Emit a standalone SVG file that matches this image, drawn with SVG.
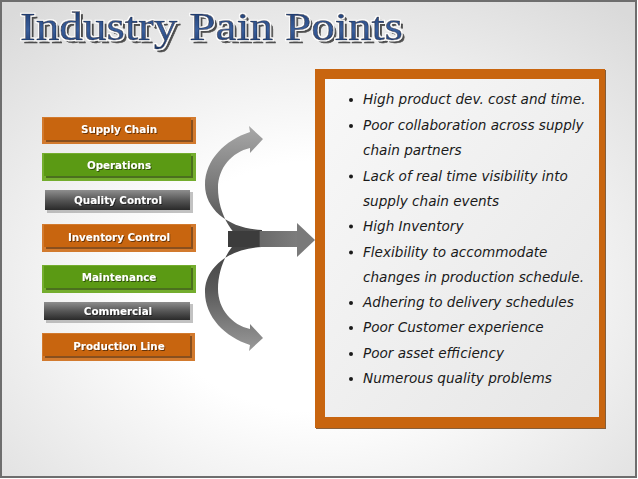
<svg xmlns="http://www.w3.org/2000/svg" width="638" height="479" viewBox="0 0 638 479">
<defs>
<radialGradient id="bg" cx="0.5" cy="0.6" r="0.75">
<stop offset="0.35" stop-color="#ffffff"/>
<stop offset="1" stop-color="#dadada"/>
</radialGradient>
<linearGradient id="inner" x1="0" y1="0" x2="1" y2="1">
<stop offset="0" stop-color="#f8f8f8"/>
<stop offset="1" stop-color="#e6e6e6"/>
</linearGradient>
<linearGradient id="grayBtn" x1="0" y1="0" x2="0" y2="1">
<stop offset="0" stop-color="#8e8e8e"/>
<stop offset="0.5" stop-color="#575757"/>
<stop offset="1" stop-color="#2a2a2a"/>
</linearGradient>
<linearGradient id="titleFill" x1="0" y1="0" x2="0" y2="1">
<stop offset="0" stop-color="#1a3668"/>
<stop offset="0.55" stop-color="#3a5f9c"/>
<stop offset="1" stop-color="#1d3a6c"/>
</linearGradient>
<linearGradient id="ribTop" x1="0" y1="0" x2="0" y2="1">
<stop offset="0" stop-color="#a8a8a8"/>
<stop offset="0.6" stop-color="#6e6e6e"/>
<stop offset="1" stop-color="#3a3a3a"/>
</linearGradient>
<linearGradient id="ribBot" x1="0" y1="0" x2="0" y2="1">
<stop offset="0" stop-color="#3a3a3a"/>
<stop offset="0.5" stop-color="#5a5a5a"/>
<stop offset="1" stop-color="#9a9a9a"/>
</linearGradient>
<linearGradient id="band" x1="0" y1="0" x2="1" y2="0">
<stop offset="0" stop-color="#3c3c3c"/>
<stop offset="0.45" stop-color="#3c3c3c"/>
<stop offset="0.47" stop-color="#6a6a6a"/>
<stop offset="1" stop-color="#7c7c7c"/>
</linearGradient>
<filter id="titleSh" x="-5%" y="-20%" width="115%" height="150%">
<feMorphology in="SourceAlpha" operator="dilate" radius="0.8" result="d"/>
<feFlood flood-color="#ffffff"/>
<feComposite in2="d" operator="in" result="white"/>
<feOffset in="SourceAlpha" dx="2.5" dy="2.5" result="o"/>
<feFlood flood-color="#1a1a1a" flood-opacity="0.75"/>
<feComposite in2="o" operator="in" result="dark"/>
<feMerge><feMergeNode in="dark"/><feMergeNode in="white"/><feMergeNode in="SourceGraphic"/></feMerge>
</filter>
<filter id="lblSh" x="-10%" y="-30%" width="125%" height="170%">
<feOffset in="SourceAlpha" dx="1" dy="1" result="o"/>
<feFlood flood-color="#000000" flood-opacity="0.5"/>
<feComposite in2="o" operator="in" result="s"/>
<feMerge><feMergeNode in="s"/><feMergeNode in="SourceGraphic"/></feMerge>
</filter>
<style>
.lbl{font-family:"DejaVu Sans","Liberation Sans",sans-serif;font-weight:bold;font-size:10.3px;fill:#ffffff;text-anchor:middle;filter:url(#lblSh)}
.orOuter{fill:#d27a2e}
.orInner{fill:#c8650f}
.grOuter{fill:#74ad2e}
.grInner{fill:#5b9a14}
.sh{fill:#000000;fill-opacity:0.35}
.gsh{fill:#9a9a9a;fill-opacity:0.6}
.bul{font-family:"DejaVu Sans","Liberation Sans",sans-serif;font-style:italic;font-size:13.6px;fill:#1a1a1a}
.dot{fill:#1a1a1a}
.title{font-family:"Liberation Serif","Times New Roman",serif;font-size:39px}
</style>
</defs>

<rect x="0" y="0" width="638" height="479" fill="#ffffff"/>
<rect x="1" y="1" width="635" height="476" fill="url(#bg)" stroke="#6e6e6e" stroke-width="2"/>

<g id="title">
<text class="title" x="20" y="40" textLength="383" lengthAdjust="spacingAndGlyphs" fill="url(#titleFill)" stroke="#10264d" stroke-width="0.6" filter="url(#titleSh)">Industry Pain Points</text>
</g>

<g id="node-supply-chain">
<rect class="orOuter" x="42" y="117" width="154" height="27"/>
<rect class="sh" x="46" y="120" width="147" height="22"/>
<rect class="orInner" x="44" y="118" width="147" height="22"/>
<text class="lbl" x="119" y="133">Supply Chain</text>
</g>

<g id="node-operations">
<rect class="grOuter" x="42" y="153" width="154" height="28"/>
<rect class="sh" x="46" y="156" width="147" height="22"/>
<rect class="grInner" x="44" y="154" width="147" height="22"/>
<text class="lbl" x="119" y="169">Operations</text>
</g>

<g id="node-quality-control">
<rect class="gsh" x="47" y="192" width="146" height="21"/>
<rect x="45" y="190" width="145" height="20" fill="url(#grayBtn)"/>
<text class="lbl" x="118" y="204">Quality Control</text>
</g>

<g id="node-inventory-control">
<rect class="orOuter" x="42" y="224" width="154" height="28"/>
<rect class="sh" x="46" y="227" width="147" height="22"/>
<rect class="orInner" x="44" y="225" width="147" height="22"/>
<text class="lbl" x="119" y="241">Inventory Control</text>
</g>

<g id="node-maintenance">
<rect class="grOuter" x="42" y="265" width="154" height="28"/>
<rect class="sh" x="46" y="268" width="147" height="22"/>
<rect class="grInner" x="44" y="266" width="147" height="22"/>
<text class="lbl" x="119" y="281">Maintenance</text>
</g>

<g id="node-commercial">
<rect class="gsh" x="46" y="304" width="147" height="19"/>
<rect x="44" y="302" width="146" height="18" fill="url(#grayBtn)"/>
<text class="lbl" x="118" y="315">Commercial</text>
</g>

<g id="node-production-line">
<rect class="orOuter" x="42" y="333" width="153" height="28"/>
<rect class="sh" x="45" y="336" width="147" height="22"/>
<rect class="orInner" x="43" y="334" width="147" height="22"/>
<text class="lbl" x="119" y="350">Production Line</text>
</g>

<g id="connectors">
<path d="M262 230 C230 229 205 210 205 185 C205 160 225 140 250 132 L249 126 L263 139 L250 153 L250 148 C232 152 218 168 218 188 C218 215 235 246 262 247 Z" fill="url(#ribTop)"/>
<path d="M262 247 C230 248 205 267 205 292 C205 317 225 337 250 345 L249 351 L263 338 L250 324 L250 329 C232 325 218 309 218 289 C218 262 235 231 262 230 Z" fill="url(#ribBot)"/>
<rect x="228" y="231" width="69" height="16" fill="url(#band)"/>
<polygon points="297,223 315,240 297,257" fill="#7a7a7a"/>
</g>

<g id="node-pain-points">
<rect x="316" y="70" width="290" height="359" fill="#6b3a0c" opacity="0.8"/>
<rect x="315" y="69" width="290" height="359" fill="#c8650f"/>
<rect x="325" y="79" width="274" height="338" fill="url(#inner)"/>
<g>
<circle class="dot" cx="351" cy="100" r="2"/>
<circle class="dot" cx="351" cy="126" r="2"/>
<circle class="dot" cx="351" cy="176.5" r="2"/>
<circle class="dot" cx="351" cy="226.5" r="2"/>
<circle class="dot" cx="351" cy="252.5" r="2"/>
<circle class="dot" cx="351" cy="303" r="2"/>
<circle class="dot" cx="351" cy="328" r="2"/>
<circle class="dot" cx="351" cy="354" r="2"/>
<circle class="dot" cx="351" cy="379" r="2"/>
</g>
<text class="bul" x="363" y="104">High product dev. cost and time.</text>
<text class="bul" x="363" y="130">Poor collaboration across supply</text>
<text class="bul" x="363" y="155">chain partners</text>
<text class="bul" x="363" y="180.5">Lack of real time visibility into</text>
<text class="bul" x="363" y="205.5">supply chain events</text>
<text class="bul" x="363" y="230.5">High Inventory</text>
<text class="bul" x="363" y="256.5">Flexibility to accommodate</text>
<text class="bul" x="363" y="281.5">changes in production schedule.</text>
<text class="bul" x="363" y="307">Adhering to delivery schedules</text>
<text class="bul" x="363" y="332">Poor Customer experience</text>
<text class="bul" x="363" y="358">Poor asset efficiency</text>
<text class="bul" x="363" y="383">Numerous quality problems</text>
</g>
</svg>
